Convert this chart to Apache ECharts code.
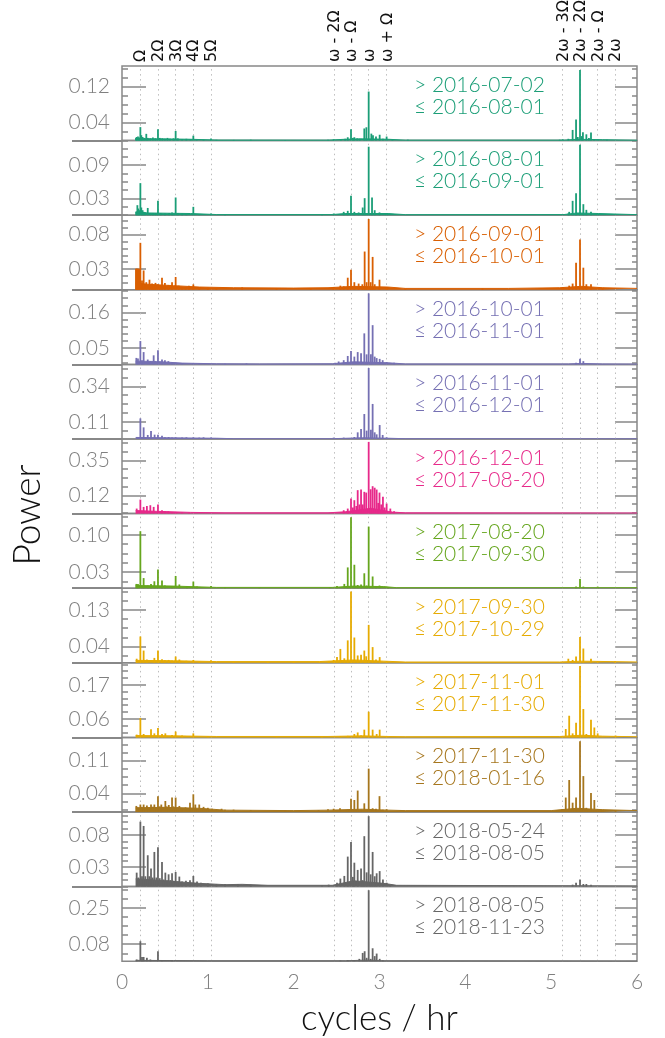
<!DOCTYPE html>
<html><head><meta charset="utf-8">
<script src="https://cdn.jsdelivr.net/npm/echarts@6/dist/echarts.min.js"></script>
<style>html,body{margin:0;padding:0;background:#fff}#c{width:665px;height:1038px}</style>
</head><body><div id="c"></div>
<script>
// ---------- data ----------
const harmonicValues = [0.212, 0.417, 0.624, 0.830, 1.036, 2.466, 2.670, 2.874, 3.081, 5.134, 5.337, 5.541, 5.745];
const harmonicLabels = ['Ω', '2Ω', '3Ω', '4Ω', '5Ω', 'ω - 2Ω', 'ω - Ω', 'ω', 'ω + Ω', '2ω - 3Ω', '2ω - 2Ω', '2ω - Ω', '2ω'];
const startDates = ['2016-07-02','2016-08-01','2016-09-01','2016-10-01','2016-11-01','2016-12-01','2017-08-20','2017-09-30','2017-11-01','2017-11-30','2018-05-24','2018-08-05'];
const endDates   = ['2016-08-01','2016-09-01','2016-10-01','2016-11-01','2016-12-01','2017-08-20','2017-09-30','2017-10-29','2017-11-30','2018-01-16','2018-08-05','2018-11-23'];
const panelColors = ['#1b9e77','#1b9e77','#d95f02','#7570b3','#7570b3','#e7298a','#66a61e','#e6ab02','#e6ab02','#a6761d','#666666','#666666'];
const axisMax = [0.1658, 0.134, 0.108, 0.230, 0.481, 0.490, 0.140, 0.183, 0.241, 0.160, 0.1154, 0.352];
const tickLabels = [[0.04,0.12],[0.03,0.09],[0.03,0.08],[0.05,0.16],[0.11,0.34],[0.12,0.35],[0.03,0.10],[0.04,0.13],[0.06,0.17],[0.04,0.11],[0.03,0.08],[0.08,0.25]];
const minorCounts = [4,4,5,5,4,4,4,4,5,4,5,4];
const xTickLabels = ['0','1','2','3','4','5','6'];

const peaks1 = [[0.163,0.006],[0.17,0.008],[0.186,0.009],[0.2,0.007],[0.214,0.030],[0.225,0.012],[0.24,0.008],[0.26,0.006],[0.283,0.015],[0.30,0.006],[0.33,0.005],[0.36,0.007],[0.39,0.005],[0.419,0.025],[0.44,0.006],[0.47,0.005],[0.5,0.004],[0.53,0.006],[0.56,0.004],[0.6,0.005],[0.625,0.0215],[0.65,0.005],[0.7,0.003],[0.75,0.004],[0.8,0.003],[0.831,0.011],[0.87,0.003],[0.95,0.002],[1.037,0.0045],[1.1,0.002],[1.3,0.0015],[1.5,0.002],[1.9,0.0015],[2.4,0.002],[2.466,0.003],[2.55,0.003],[2.6,0.004],[2.63,0.0074],[2.668,0.025],[2.69,0.006],[2.707,0.0074],[2.74,0.005],[2.769,0.004],[2.823,0.027],[2.847,0.0296],[2.874,0.109],[2.905,0.0155],[2.924,0.012],[2.959,0.009],[3.002,0.013],[3.04,0.004],[3.083,0.009],[3.15,0.002],[3.33,0.002],[5.1,0.002],[5.134,0.003],[5.2,0.004],[5.25,0.0237],[5.29,0.0467],[5.31,0.008],[5.336,0.157],[5.355,0.01],[5.37,0.0185],[5.41,0.014],[5.44,0.006],[5.464,0.0178],[5.5,0.003],[5.542,0.003],[5.65,0.002]];
const peaks2 = [[0.165,0.006],[0.179,0.018],[0.19,0.012],[0.2,0.009],[0.214,0.0576],[0.225,0.0138],[0.24,0.009],[0.252,0.006],[0.27,0.005],[0.3,0.013],[0.33,0.004],[0.36,0.004],[0.39,0.004],[0.419,0.0258],[0.45,0.004],[0.5,0.003],[0.55,0.004],[0.583,0.005],[0.6,0.003],[0.625,0.0318],[0.65,0.004],[0.7,0.003],[0.75,0.002],[0.831,0.015],[0.9,0.002],[1.037,0.003],[1.2,0.0015],[2.33,0.0015],[2.466,0.003],[2.583,0.006],[2.63,0.0078],[2.668,0.0348],[2.707,0.006],[2.757,0.005],[2.804,0.0138],[2.827,0.0306],[2.874,0.123],[2.913,0.0318],[2.944,0.009],[3.0,0.005],[3.083,0.003],[5.2,0.003],[5.21,0.006],[5.25,0.0258],[5.29,0.0396],[5.336,0.1266],[5.375,0.0198],[5.41,0.0096],[5.464,0.006],[5.542,0.003]];
const peaks3 = [[0.163,0.0306],[0.17,0.0306],[0.18,0.0306],[0.19,0.0306],[0.2,0.03],[0.214,0.068],[0.233,0.0136],[0.252,0.028],[0.283,0.011],[0.32,0.0146],[0.35,0.009],[0.37,0.007],[0.39,0.01],[0.419,0.008],[0.44,0.006],[0.466,0.0175],[0.5,0.01],[0.54,0.007],[0.583,0.011],[0.625,0.0185],[0.66,0.006],[0.7,0.004],[0.74,0.003],[0.78,0.006],[0.831,0.0078],[0.9,0.004],[1.0,0.003],[1.1,0.002],[1.4,0.0035],[1.8,0.002],[2.2,0.002],[2.466,0.004],[2.544,0.006],[2.583,0.005],[2.63,0.0175],[2.668,0.029],[2.707,0.011],[2.757,0.009],[2.8,0.008],[2.827,0.0554],[2.85,0.011],[2.874,0.1025],[2.897,0.011],[2.92,0.0476],[2.944,0.008],[3.0,0.0146],[3.083,0.004],[3.3,0.002],[4.2,0.002],[5.134,0.003],[5.21,0.006],[5.25,0.009],[5.29,0.039],[5.336,0.073],[5.375,0.032],[5.41,0.008],[5.464,0.008],[5.6,0.003]];
const peaks4 = [[0.167,0.02],[0.186,0.018],[0.214,0.072],[0.233,0.013],[0.252,0.038],[0.3,0.015],[0.33,0.01],[0.369,0.028],[0.419,0.044],[0.466,0.015],[0.5,0.013],[0.54,0.01],[0.583,0.007],[0.625,0.005],[0.7,0.004],[0.831,0.004],[0.9,0.003],[1.2,0.002],[1.45,0.003],[2.0,0.001],[2.485,0.005],[2.524,0.009],[2.583,0.013],[2.63,0.026],[2.668,0.041],[2.707,0.024],[2.746,0.038],[2.785,0.034],[2.823,0.0957],[2.85,0.031],[2.874,0.219],[2.9,0.031],[2.92,0.121],[2.944,0.024],[2.967,0.0195],[3.002,0.017],[3.037,0.013],[3.083,0.007],[3.17,0.005],[5.29,0.005],[5.336,0.0175],[5.375,0.01]];
const peaks5 = [[0.186,0.011],[0.214,0.133],[0.252,0.075],[0.3,0.026],[0.338,0.052],[0.38,0.028],[0.419,0.028],[0.466,0.0215],[0.5,0.012],[0.543,0.013],[0.583,0.01],[0.625,0.011],[0.7,0.01],[0.75,0.011],[0.831,0.011],[0.9,0.009],[0.95,0.011],[1.037,0.01],[1.1,0.004],[2.466,0.009],[2.583,0.009],[2.707,0.013],[2.746,0.043],[2.785,0.0645],[2.823,0.161],[2.85,0.054],[2.874,0.458],[2.9,0.06],[2.92,0.226],[2.944,0.043],[2.967,0.03],[3.002,0.09],[3.037,0.026],[3.083,0.011],[3.22,0.006]];
const peaks6 = [[0.171,0.033],[0.214,0.092],[0.252,0.044],[0.29,0.05],[0.33,0.055],[0.369,0.044],[0.419,0.059],[0.466,0.022],[0.5,0.015],[0.54,0.015],[0.583,0.011],[0.625,0.011],[0.7,0.008],[0.78,0.006],[2.583,0.022],[2.63,0.033],[2.668,0.099],[2.69,0.04],[2.707,0.088],[2.73,0.05],[2.746,0.154],[2.765,0.06],[2.785,0.158],[2.805,0.06],[2.823,0.143],[2.845,0.138],[2.874,0.471],[2.897,0.16],[2.92,0.18],[2.944,0.17],[2.967,0.158],[2.985,0.07],[3.0,0.138],[3.02,0.06],[3.04,0.11],[3.06,0.04],[3.083,0.066],[3.126,0.033],[3.17,0.015]];
const peaks7 = [[0.167,0.008],[0.186,0.008],[0.214,0.107],[0.252,0.019],[0.3,0.005],[0.338,0.008],[0.377,0.013],[0.419,0.035],[0.466,0.0144],[0.5,0.005],[0.583,0.004],[0.625,0.023],[0.668,0.007],[0.757,0.004],[0.831,0.0125],[0.874,0.003],[1.037,0.004],[1.2,0.002],[1.6,0.001],[2.42,0.002],[2.505,0.004],[2.59,0.008],[2.63,0.039],[2.668,0.133],[2.707,0.044],[2.746,0.006],[2.785,0.007],[2.823,0.028],[2.85,0.005],[2.874,0.1156],[2.92,0.022],[2.959,0.004],[3.0,0.005],[3.1,0.001],[5.29,0.003],[5.336,0.0175],[5.375,0.003],[5.542,0.003]];
const peaks8 = [[0.171,0.01],[0.214,0.0646],[0.252,0.030],[0.29,0.008],[0.377,0.012],[0.419,0.030],[0.466,0.009],[0.5,0.006],[0.543,0.007],[0.583,0.005],[0.625,0.0155],[0.668,0.008],[0.75,0.005],[0.831,0.007],[0.9,0.003],[1.037,0.006],[1.3,0.002],[1.7,0.002],[2.0,0.002],[2.3,0.003],[2.408,0.004],[2.466,0.007],[2.505,0.014],[2.544,0.034],[2.59,0.011],[2.63,0.055],[2.668,0.175],[2.707,0.062],[2.746,0.018],[2.785,0.02],[2.823,0.030],[2.845,0.016],[2.874,0.093],[2.92,0.0385],[2.959,0.008],[3.002,0.014],[3.083,0.004],[5.2,0.01],[5.25,0.007],[5.29,0.0155],[5.336,0.063],[5.375,0.035],[5.464,0.01],[5.542,0.004],[5.744,0.004]];
const peaks9 = [[0.171,0.009],[0.214,0.0626],[0.252,0.011],[0.338,0.026],[0.377,0.013],[0.419,0.030],[0.466,0.011],[0.505,0.013],[0.583,0.008],[0.625,0.019],[0.7,0.006],[0.831,0.013],[1.0,0.004],[1.8,0.003],[2.33,0.004],[2.544,0.004],[2.63,0.005],[2.707,0.011],[2.746,0.016],[2.785,0.006],[2.823,0.025],[2.874,0.083],[2.92,0.025],[2.967,0.011],[3.002,0.025],[3.083,0.003],[5.126,0.004],[5.17,0.027],[5.21,0.070],[5.25,0.013],[5.29,0.0475],[5.336,0.231],[5.375,0.0917],[5.41,0.011],[5.464,0.057],[5.503,0.032],[5.542,0.013],[5.75,0.006]];
const peaks10 = [[0.167,0.013],[0.18,0.01],[0.2,0.009],[0.214,0.016],[0.23,0.011],[0.252,0.016],[0.27,0.009],[0.29,0.014],[0.31,0.01],[0.338,0.016],[0.36,0.011],[0.377,0.016],[0.419,0.034],[0.44,0.012],[0.458,0.016],[0.47,0.01],[0.505,0.0236],[0.52,0.012],[0.545,0.015],[0.583,0.031],[0.6,0.012],[0.625,0.031],[0.65,0.01],[0.668,0.013],[0.7,0.008],[0.74,0.01],[0.792,0.02],[0.831,0.038],[0.854,0.016],[0.9,0.016],[0.95,0.011],[1.0,0.009],[1.05,0.007],[1.16,0.007],[1.2,0.005],[1.3,0.005],[1.5,0.004],[1.9,0.003],[2.29,0.004],[2.4,0.006],[2.466,0.007],[2.54,0.008],[2.63,0.005],[2.668,0.0286],[2.707,0.0257],[2.746,0.046],[2.785,0.005],[2.823,0.0186],[2.874,0.093],[2.92,0.008],[2.959,0.007],[3.0,0.034],[3.04,0.005],[3.083,0.006],[5.05,0.003],[5.126,0.006],[5.17,0.031],[5.21,0.0686],[5.25,0.02],[5.29,0.031],[5.336,0.152],[5.375,0.077],[5.41,0.009],[5.464,0.041],[5.503,0.0257],[5.542,0.006],[5.6,0.005],[5.75,0.004]];
const peaks11 = [[0.171,0.0216],[0.19,0.014],[0.214,0.1005],[0.233,0.016],[0.252,0.0938],[0.272,0.016],[0.3,0.0485],[0.318,0.016],[0.338,0.028],[0.357,0.014],[0.377,0.0536],[0.4,0.014],[0.419,0.0608],[0.44,0.013],[0.466,0.038],[0.485,0.011],[0.505,0.0216],[0.525,0.01],[0.543,0.019],[0.563,0.01],[0.583,0.0206],[0.6,0.009],[0.625,0.0227],[0.65,0.008],[0.668,0.0155],[0.7,0.008],[0.745,0.009],[0.792,0.01],[0.831,0.0165],[0.874,0.008],[0.92,0.006],[1.0,0.005],[1.1,0.004],[1.2,0.004],[1.35,0.004],[1.5,0.003],[2.33,0.002],[2.408,0.003],[2.505,0.006],[2.544,0.0124],[2.59,0.0165],[2.63,0.0464],[2.668,0.069],[2.69,0.015],[2.707,0.037],[2.746,0.0258],[2.785,0.028],[2.805,0.01],[2.823,0.078],[2.85,0.022],[2.874,0.109],[2.897,0.019],[2.92,0.0536],[2.944,0.016],[2.967,0.0206],[3.002,0.024],[3.04,0.011],[3.083,0.006],[3.126,0.002],[5.25,0.003],[5.29,0.006],[5.336,0.011],[5.375,0.004],[5.41,0.004],[5.464,0.003]];
const peaks12 = [[0.171,0.008],[0.214,0.0945],[0.233,0.02],[0.252,0.02],[0.29,0.016],[0.33,0.008],[0.419,0.047],[0.466,0.005],[0.583,0.004],[2.544,0.003],[2.63,0.005],[2.707,0.005],[2.765,0.011],[2.804,0.039],[2.827,0.047],[2.85,0.016],[2.874,0.335],[2.897,0.011],[2.92,0.061],[2.944,0.024],[2.967,0.036],[3.002,0.011],[3.04,0.005]];

const floor1 = [[0.16,0.004],[0.4,0.004],[0.8,0.003],[1.1,0.0012],[2.4,0.001],[2.6,0.003],[2.8,0.004],[3.1,0.003],[3.3,0.001],[5.15,0.001],[5.3,0.003],[5.6,0.002],[6,0.0008]];
const floor2 = [[0.16,0.006],[0.3,0.004],[0.8,0.003],[1.1,0.0012],[2.45,0.0012],[2.6,0.003],[3.1,0.003],[3.3,0.001],[5.15,0.0012],[5.3,0.004],[5.55,0.003],[6,0.001]];
const floor3 = [[0.16,0.01],[0.3,0.008],[0.6,0.006],[0.9,0.004],[1.3,0.003],[2.0,0.0025],[2.4,0.003],[2.7,0.005],[3.1,0.004],[3.3,0.002],[4.5,0.002],[5.1,0.003],[5.35,0.005],[5.6,0.003],[6,0.002]];
const floor4 = [[0.16,0.01],[0.4,0.009],[0.7,0.004],[1.1,0.002],[1.6,0.0015],[2.45,0.002],[2.7,0.008],[3.1,0.005],[3.3,0.0015],[5.2,0.0015],[5.35,0.003],[5.6,0.0015],[6,0.001]];
const floor5 = [[0.16,0.01],[0.5,0.008],[1.1,0.005],[1.3,0.002],[2.45,0.002],[2.8,0.008],[3.1,0.005],[3.3,0.002],[6,0.0015]];
const floor6 = [[0.16,0.02],[0.4,0.015],[0.8,0.008],[1.2,0.005],[2.4,0.005],[2.6,0.012],[2.9,0.035],[3.15,0.01],[3.3,0.005],[6,0.004]];
const floor7 = [[0.16,0.005],[0.6,0.004],[1.1,0.0015],[2.45,0.0015],[2.7,0.004],[3.05,0.003],[3.2,0.001],[6,0.001]];
const floor8 = [[0.16,0.006],[0.6,0.005],[1.1,0.003],[2.3,0.003],[2.7,0.007],[3.05,0.004],[3.3,0.002],[5.1,0.002],[5.35,0.004],[6,0.002]];
const floor9 = [[0.16,0.006],[0.6,0.005],[1.1,0.003],[2.4,0.003],[2.8,0.005],[3.1,0.003],[3.3,0.002],[5.1,0.003],[5.35,0.007],[5.6,0.004],[6,0.002]];
const floor10 = [[0.16,0.009],[0.5,0.01],[0.9,0.008],[1.2,0.004],[2.0,0.003],[2.4,0.004],[2.8,0.006],[3.1,0.004],[3.3,0.003],[5.0,0.003],[5.3,0.008],[5.6,0.005],[6,0.003]];
const floor11 = [[0.16,0.012],[0.3,0.011],[0.6,0.008],[0.9,0.005],[1.2,0.003],[1.4,0.0035],[1.7,0.002],[2.45,0.002],[2.7,0.009],[3.05,0.005],[3.2,0.002],[6,0.001]];
const floor12 = [[0.16,0.004],[0.6,0.003],[1.0,0.002],[2.6,0.002],[2.85,0.005],[3.05,0.002],[6,0.001]];

const peaks = [peaks1,peaks2,peaks3,peaks4,peaks5,peaks6,peaks7,peaks8,peaks9,peaks10,peaks11,peaks12];
const floors = [floor1,floor2,floor3,floor4,floor5,floor6,floor7,floor8,floor9,floor10,floor11,floor12];

// ---------- layout / style ----------
const panelTop = 66, panelH = 74.6, plotLeft = 122, plotRight = 28;
const frameColor = '#888888', labelGray = '#7f7f7f';
const textFont = 'Lato, "DejaVu Sans", sans-serif';

const grids = [], xAxes = [], yAxes = [], series = [], graphics = [];
for (let i = 0; i < 12; i++) {
  const top = panelTop + i * panelH;
  grids.push({left: plotLeft, right: plotRight, top: top, height: panelH, show: true,
    borderColor: frameColor, borderWidth: 1.5, backgroundColor: 'transparent'});
  const last = i === 11;
  xAxes.push({gridIndex: i, type: 'value', min: 0, max: 6, interval: 1,
    axisLine: {show: false, onZero: false}, axisTick: {show: false}, splitLine: {show: false},
    axisLabel: {show: last, fontSize: 21, color: labelGray, margin: 11, fontFamily: textFont, fontWeight: 300,
      formatter: (v) => xTickLabels[Math.round(v)]},
    name: last ? 'cycles / hr' : '', nameLocation: 'middle', nameGap: 40,
    nameTextStyle: {fontSize: 35, color: '#111', fontFamily: textFont, fontWeight: 300}});

  const lo = tickLabels[i][0], hi = tickLabels[i][1];
  const step = (hi - lo) / minorCounts[i];
  const minor = [];
  for (let k = -Math.floor(lo / step + 1e-9); lo + k * step <= axisMax[i] + 1e-9; k++) {
    minor.push(+(lo + k * step).toFixed(6));
  }
  const base = {gridIndex: i, type: 'value', min: 0, max: axisMax[i],
    splitLine: {show: false}, axisLine: {show: false, onZero: false}};
  const tickStyle = {color: frameColor, width: 1.5};
  yAxes.push(Object.assign({}, base, {position: 'left',
    axisLabel: {customValues: [lo, hi], formatter: (v) => v.toFixed(2), fontSize: 21, color: labelGray,
      margin: 12, fontFamily: textFont, fontWeight: 300},
    axisTick: {customValues: [lo, hi], inside: true, length: 24, lineStyle: tickStyle}}));
  yAxes.push(Object.assign({}, base, {position: 'left', axisLabel: {show: false},
    axisTick: {customValues: minor, inside: true, length: 6, lineStyle: tickStyle}}));
  yAxes.push(Object.assign({}, base, {position: 'right', axisLabel: {show: false},
    axisTick: {customValues: [lo, hi], inside: true, length: 22, lineStyle: tickStyle}}));
  yAxes.push(Object.assign({}, base, {position: 'right', axisLabel: {show: false},
    axisTick: {customValues: minor, inside: true, length: 5, lineStyle: tickStyle}}));
  yAxes.push(Object.assign({}, base, {position: 'left', axisLabel: {show: false},
    axisTick: {show: !last, customValues: [0], inside: false, length: 50, lineStyle: {color: frameColor, width: 2}}}));

  const color = panelColors[i];
  series.push({type: 'bar', xAxisIndex: i, yAxisIndex: i * 5, data: peaks[i], barWidth: 1.8,
    itemStyle: {color: color}, silent: true, z: 3,
    markLine: {symbol: ['none', 'none'], silent: true, label: {show: false}, z: 1,
      lineStyle: {color: '#bdbdbd', type: [1.5, 3.5], width: 1},
      data: harmonicValues.map(v => ({xAxis: v}))}});
  series.push({type: 'line', xAxisIndex: i, yAxisIndex: i * 5, data: floors[i], symbol: 'none', silent: true,
    lineStyle: {width: 1, color: color}, areaStyle: {color: color, opacity: 1}, z: 3});

  graphics.push({type: 'text', x: 414, y: top + 19, silent: true,
    style: {text: '> ' + startDates[i], fill: color, fontSize: 21, fontFamily: textFont, fontWeight: 300, verticalAlign: 'middle'}});
  graphics.push({type: 'text', x: 414, y: top + 41, silent: true,
    style: {text: '≤ ' + endDates[i], fill: color, fontSize: 21, fontFamily: textFont, fontWeight: 300, verticalAlign: 'middle'}});
}

graphics.push({type: 'text', x: 28, y: 515, rotation: Math.PI / 2, silent: true,
  style: {text: 'Power', fontSize: 37, fill: '#111', fontFamily: textFont, fontWeight: 300, align: 'center', verticalAlign: 'middle'}});

const chart = echarts.init(document.getElementById('c'), null, {renderer: 'canvas'});
chart.setOption({animation: false, backgroundColor: '#fff', grid: grids, xAxis: xAxes, yAxis: yAxes, series: series, graphic: graphics});

// top harmonic labels, placed through the first panel's x scale
const topLabels = harmonicValues.map((v, k) => ({
  type: 'text', x: chart.convertToPixel({xAxisIndex: 0}, v) + 1, y: panelTop - 4, rotation: Math.PI / 2, silent: true,
  style: {text: harmonicLabels[k], fontSize: 16, fill: '#111', fontFamily: '"DejaVu Sans", sans-serif', align: 'left', verticalAlign: 'middle'}
}));
chart.setOption({graphic: graphics.concat(topLabels)});
</script></body></html>
